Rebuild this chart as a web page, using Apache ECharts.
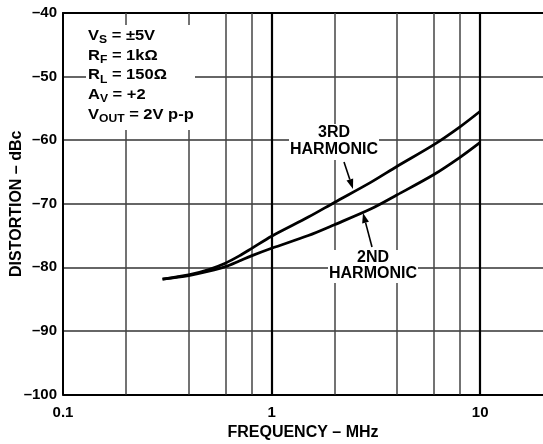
<!DOCTYPE html>
<html>
<head>
<meta charset="utf-8">
<script src="https://cdn.jsdelivr.net/npm/echarts@6/dist/echarts.min.js"></script>
<style>
html,body{margin:0;padding:0;background:#fff;}
#chart{width:543px;height:444px;}
</style>
</head>
<body>
<div id="chart"></div>
<script>
// ---- data ----
const freqs = [0.3, 0.4, 0.5, 0.6, 0.7, 0.8, 1, 1.5, 2, 3, 4, 6, 8, 10];
const thirdHarmonic = [-81.85, -81.2, -80.35, -79.35, -78.2, -77.05, -75.1, -72.1, -69.8, -66.6, -64.1, -60.7, -57.9, -55.45];
const secondHarmonic = [-81.85, -81.3, -80.6, -79.9, -79.0, -78.2, -77.0, -75.0, -73.3, -70.8, -68.6, -65.4, -62.7, -60.35];
const gridFreqs = [0.2, 0.4, 0.6, 0.8, 1, 2, 4, 6, 8, 10];
const majorFreqs = [1, 10];
const xTickLabels = {'-1': '0.1', '0': '1', '1': '10'};
const yTickLabels = ['–100', '–90', '–80', '–70', '–60', '–50', '–40'];
const yMin = -100, yMax = -40, yStep = 10;
const xMin = 0.1, xMax = 20;

const FONT = '"Liberation Sans", Arial, Helvetica, sans-serif';

const chart = echarts.init(document.getElementById('chart'), null, {renderer: 'canvas'});

function arrow(x1, y1, x2, y2) {
  const dx = x2 - x1, dy = y2 - y1, len = Math.hypot(dx, dy);
  const ux = dx / len, uy = dy / len;
  const hl = 10, hw = 3.5;
  const bx = x2 - ux * hl, by = y2 - uy * hl;
  return [
    {type: 'line', z: 60, shape: {x1: x1, y1: y1, x2: bx, y2: by}, style: {stroke: '#000', lineWidth: 1.6}},
    {type: 'polygon', z: 60, shape: {points: [[x2, y2], [bx - uy * hw, by + ux * hw], [bx + uy * hw, by - ux * hw]]}, style: {fill: '#000'}}
  ];
}

const mainRich = {
  m: {fontSize: 15, fontWeight: 'bold', fontFamily: FONT, lineHeight: 19.7, fill: '#000'},
  s: {fontSize: 11, fontWeight: 'bold', fontFamily: FONT, lineHeight: 11, verticalAlign: 'bottom', fill: '#000'}
};

const option = {
  animation: false,
  backgroundColor: '#fff',
  grid: {left: 63, right: 0, top: 13, bottom: 49.5, containLabel: false, outerBoundsMode: 'none'},
  xAxis: [{
    type: 'log', logBase: 10, min: xMin, max: xMax,
    axisLine: {show: true, onZero: false, lineStyle: {color: '#000', width: 2}},
    axisTick: {show: false},
    splitLine: {show: false},
    minorSplitLine: {show: false},
    axisLabel: {
      color: '#000', fontSize: 15, fontWeight: 'bold', fontFamily: FONT, margin: 11,
      showMinLabel: true, showMaxLabel: false, hideOverlap: false,
      formatter: function (v) {
        const e = Math.round(Math.log10(v));
        if (Math.abs(Math.log10(v) - e) > 1e-6) return '';
        return xTickLabels[String(e)] || '';
      }
    },
    name: 'FREQUENCY – MHz', nameLocation: 'middle', nameGap: 30, nameMoveOverlap: false,
    nameTextStyle: {color: '#000', fontSize: 16, fontWeight: 'bold', fontFamily: FONT}
  }, {
    type: 'log', logBase: 10, min: xMin, max: xMax, position: 'top',
    axisLine: {show: true, onZero: false, lineStyle: {color: '#000', width: 2}},
    axisTick: {show: false}, axisLabel: {show: false}, splitLine: {show: false}
  }],
  yAxis: {
    type: 'value', min: yMin, max: yMax, interval: yStep,
    axisLine: {show: true, onZero: false, lineStyle: {color: '#000', width: 2}},
    axisTick: {show: false},
    splitLine: {show: true, lineStyle: {color: '#333', width: 1.5}},
    axisLabel: {
      color: '#000', fontSize: 15, fontWeight: 'bold', fontFamily: FONT, margin: 6,
      formatter: function (v) {
        const i = Math.round((v - yMin) / yStep);
        return yTickLabels[i] || '';
      }
    },
    name: 'DISTORTION – dBc', nameLocation: 'middle', nameGap: 38.5, nameMoveOverlap: false,
    nameTextStyle: {color: '#000', fontSize: 16, fontWeight: 'bold', fontFamily: FONT}
  },
  series: [{
    type: 'line', name: 'grid', data: [], z: 1, silent: true,
    markLine: {
      silent: true, symbol: ['none', 'none'], animation: false,
      label: {show: false},
      lineStyle: {color: '#444', width: 1.5, type: 'solid'},
      data: gridFreqs.map(f => majorFreqs.indexOf(f) >= 0
        ? {xAxis: f, lineStyle: {color: '#000', width: 2.2, type: 'solid'}}
        : {xAxis: f})
    }
  }, {
    type: 'line', name: '3RD HARMONIC', smooth: 0.3, symbol: 'none', z: 5,
    lineStyle: {color: '#000', width: 2.8},
    data: freqs.map((f, i) => [f, thirdHarmonic[i]])
  }, {
    type: 'line', name: '2ND HARMONIC', smooth: 0.3, symbol: 'none', z: 5,
    lineStyle: {color: '#000', width: 2.8},
    data: freqs.map((f, i) => [f, secondHarmonic[i]])
  }],
  graphic: [
    {type: 'rect', z: 50, shape: {x: 86, y: 25, width: 109, height: 105}, style: {fill: '#fff'}},
    {type: 'text', z: 55, x: 88, y: 26, scaleX: 1.1, style: {
      text: '{m|V}{s|S}{m| = ±5V}\n{m|R}{s|F}{m| = 1kΩ}\n{m|R}{s|L}{m| = 150Ω}\n{m|A}{s|V}{m| = +2}\n{m|V}{s|OUT}{m| = 2V p-p}',
      rich: mainRich, fill: '#000'
    }},
    {type: 'rect', z: 50, shape: {x: 289, y: 124, width: 90, height: 36}, style: {fill: '#fff'}},
    {type: 'text', z: 55, x: 334, y: 124.5, style: {
      text: '3RD\nHARMONIC', align: 'center', verticalAlign: 'top', lineHeight: 17,
      fontSize: 16, fontWeight: 'bold', fontFamily: FONT, fill: '#000'
    }},
    {type: 'rect', z: 50, shape: {x: 328, y: 250, width: 90, height: 33}, style: {fill: '#fff'}},
    {type: 'text', z: 55, x: 373, y: 250, style: {
      text: '2ND\nHARMONIC', align: 'center', verticalAlign: 'top', lineHeight: 16,
      fontSize: 16, fontWeight: 'bold', fontFamily: FONT, fill: '#000'
    }}
  ].concat(arrow(344, 162, 353, 189)).concat(arrow(372, 247, 363, 213))
};

chart.setOption(option);
</script>
</body>
</html>
